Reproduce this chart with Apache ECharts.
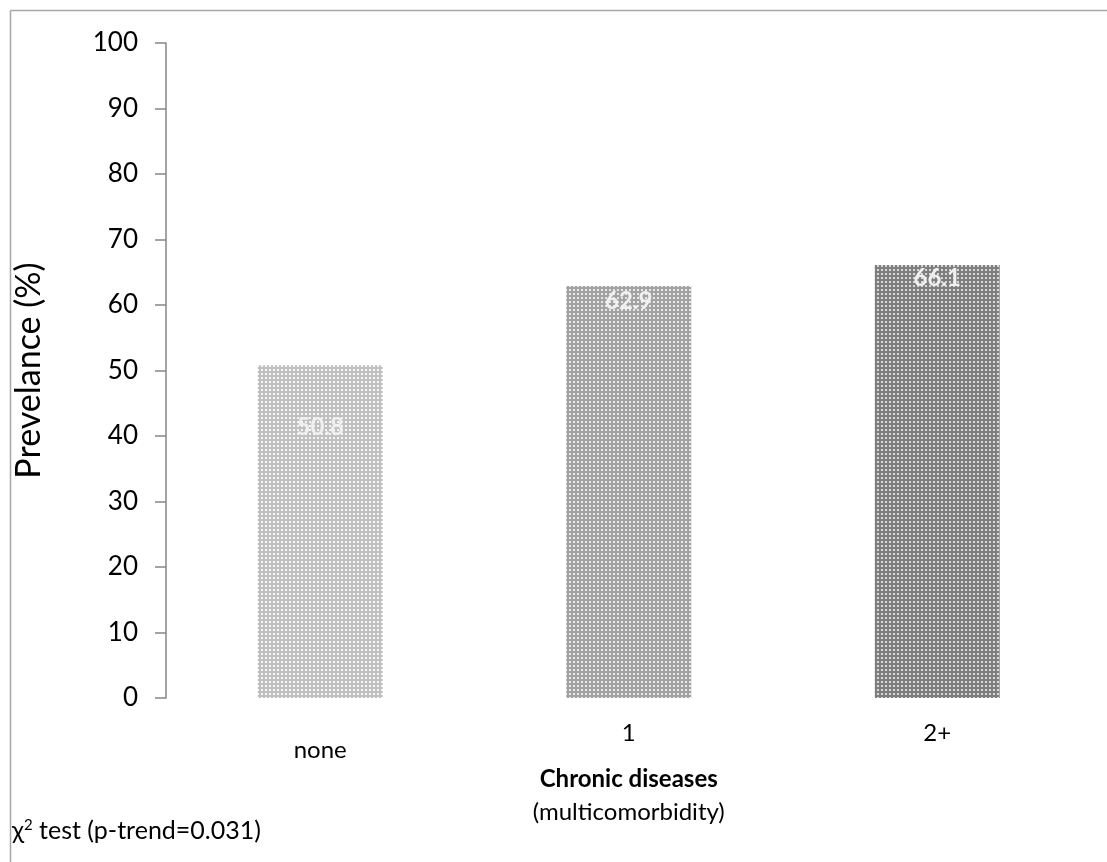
<!DOCTYPE html>
<html>
<head>
<meta charset="utf-8">
<script src="https://cdn.jsdelivr.net/npm/echarts@6/dist/echarts.min.js"></script>
<style>
html,body{margin:0;padding:0;background:#fff;}
#chart{width:1107px;height:862px;}
</style>
</head>
<body>
<div id="chart"></div>
<script>
// ---- data ----
var categories = ['none', '1', '2+'];
var prevalence = [50.8, 62.9, 66.1];
var yTicks = [0, 10, 20, 30, 40, 50, 60, 70, 80, 90, 100];

// ---- styles (not data) ----
var barBg = ['#c0c0c0', '#a2a2a2', '#7e7e7e'];
var barDot = ['#f6f6f6', '#e8e8e8', '#d8d8d8'];
var labelDist = [50, 3, 1];

function makePattern(bg, dot) {
  var c = document.createElement('canvas');
  c.width = 4; c.height = 4;
  var ctx = c.getContext('2d');
  ctx.fillStyle = bg;
  ctx.fillRect(0, 0, 4, 4);
  ctx.fillStyle = dot;
  ctx.fillRect(1, 1, 2, 2);
  return c;
}

var FONT = 'Lato, "Open Sans", "Liberation Sans", sans-serif';

var seriesData = prevalence.map(function (v, i) {
  return {
    value: v,
    itemStyle: { color: { image: makePattern(barBg[i], barDot[i]), repeat: 'repeat' } },
    label: { distance: labelDist[i] }
  };
});

var chart = echarts.init(document.getElementById('chart'), null, { renderer: 'canvas' });
chart.setOption({
  animation: false,
  backgroundColor: '#fff',
  grid: { left: 166, top: 43, right: 15.5, bottom: 164, containLabel: false },
  xAxis: {
    type: 'category',
    data: categories,
    axisLine: { show: false },
    axisTick: { show: false },
    axisLabel: {
      margin: 23,
      fontFamily: FONT,
      fontSize: 24,
      color: '#000',
      formatter: function (v) {
        return v === categories[0] ? '{low|' + v + '}' : '{n|' + v + '}';
      },
      rich: {
        low: { padding: [17, 0, 0, 0], fontFamily: FONT, fontSize: 24, color: '#000' },
        n: { fontFamily: FONT, fontSize: 24, color: '#000' }
      }
    },
    name: '{b|Chronic diseases}\n{n|(multicomorbidity)}',
    nameLocation: 'middle',
    nameGap: 50,
    nameTextStyle: {
      rich: {
        b: { fontFamily: FONT, fontSize: 24, fontWeight: 'bold', color: '#000', lineHeight: 33 },
        n: { fontFamily: FONT, fontSize: 24, color: '#000', lineHeight: 33 }
      }
    }
  },
  yAxis: {
    type: 'value',
    min: yTicks[0],
    max: yTicks[yTicks.length - 1],
    interval: yTicks[1] - yTicks[0],
    splitLine: { show: false },
    axisLine: { show: true, lineStyle: { color: '#868686', width: 1.5 } },
    axisTick: { show: true, length: 11, lineStyle: { color: '#868686', width: 1.5 } },
    axisLabel: { margin: 28, fontFamily: FONT, fontSize: 26, color: '#000' },
    name: 'Prevelance (%)',
    nameLocation: 'middle',
    nameGap: 120,
    nameTextStyle: { fontFamily: FONT, fontSize: 34, color: '#000' }
  },
  series: [{
    type: 'bar',
    data: seriesData,
    barWidth: '40.5%',
    label: {
      show: true,
      position: 'insideTop',
      fontFamily: FONT,
      fontSize: 24,
      fontWeight: 'bold',
      color: '#f0f0f0'
    }
  }],
  graphic: [
    { type: 'line', shape: { x1: 10.5, y1: 10.5, x2: 1107, y2: 10.5 }, style: { stroke: '#a6a6a6', lineWidth: 1.5 } },
    { type: 'line', shape: { x1: 10.5, y1: 10.5, x2: 10.5, y2: 862 }, style: { stroke: '#a6a6a6', lineWidth: 1.5 } },
    {
      type: 'text', left: 12, top: 818,
      style: {
        text: 'χ{sup|2} test (p-trend=0.031)',
        fontFamily: FONT, fontSize: 25, fill: '#000',
        rich: {
          sup: { fontFamily: FONT, fontSize: 15, fill: '#000', verticalAlign: 'top', padding: [0, 0, 9, 0] }
        }
      }
    }
  ]
});
</script>
</body>
</html>
